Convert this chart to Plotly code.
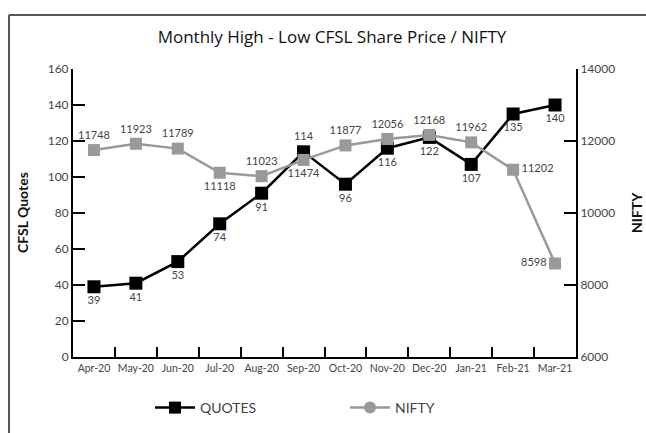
import plotly.graph_objects as go

months = ["Apr-20", "May-20", "Jun-20", "Jul-20", "Aug-20", "Sep-20",
          "Oct-20", "Nov-20", "Dec-20", "Jan-21", "Feb-21", "Mar-21"]
quotes = [39, 41, 53, 74, 91, 114, 96, 116, 122, 107, 135, 140]
nifty = [11748, 11923, 11789, 11118, 11023, 11474, 11877, 12056, 12168, 11962, 11202, 8598]

quote_pos = ["bottom center"] * 12
quote_pos[5] = "top center"
nifty_pos = ["top center"] * 12
nifty_pos[3] = "bottom center"
nifty_pos[5] = "bottom center"
nifty_pos[10] = "middle right"
nifty_pos[11] = "middle left"

FONT = "Lato"
BLACK = "#000000"
GRAY = "#999999"
TXT = "#444444"

fig = go.Figure()

fig.add_trace(go.Scatter(
    x=months, y=quotes, mode="lines+markers+text", name="QUOTES",
    line=dict(color=BLACK, width=2.5),
    marker=dict(symbol="square", size=13, color=BLACK),
    text=[str(v) for v in quotes], textposition=quote_pos,
    textfont=dict(family=FONT, size=11, color=TXT),
    showlegend=False, cliponaxis=False, yaxis="y"))

fig.add_trace(go.Scatter(
    x=months, y=nifty, mode="lines+markers+text", name="NIFTY",
    line=dict(color=GRAY, width=2.5),
    marker=dict(symbol="square", size=12, color=GRAY),
    text=[str(v) for v in nifty], textposition=nifty_pos,
    textfont=dict(family=FONT, size=11, color=TXT),
    showlegend=False, cliponaxis=False, yaxis="y2"))

# legend-only entries
fig.add_trace(go.Scatter(
    x=[None], y=[None], mode="lines+markers", name="QUOTES",
    line=dict(color=BLACK, width=2.5),
    marker=dict(symbol="square", size=12, color=BLACK), yaxis="y"))
fig.add_trace(go.Scatter(
    x=[None], y=[None], mode="lines+markers", name="NIFTY",
    line=dict(color=GRAY, width=2.5),
    marker=dict(symbol="circle", size=12, color=GRAY), yaxis="y2"))

fig.update_layout(
    width=646, height=433,
    margin=dict(l=73, r=70, t=69, b=76, autoexpand=False),
    paper_bgcolor="white", plot_bgcolor="white",
    font=dict(family=FONT, color=TXT),
    title=dict(text="Monthly High - Low CFSL Share Price / NIFTY",
               x=332 / 646, xanchor="center", y=1 - 37 / 433, yanchor="middle",
               font=dict(family="Open Sans", size=17, color="#111111", weight=500)),
    xaxis=dict(type="category", categoryorder="array", categoryarray=months,
               range=[-0.5, 11.5], showgrid=False, zeroline=False,
               showline=True, linecolor=BLACK, linewidth=2,
               ticks="inside", ticklen=10, tickwidth=2, tickcolor=BLACK,
               tickson="boundaries", tickangle=0,
               tickfont=dict(family=FONT, size=10.5, color=TXT)),
    yaxis=dict(range=[0, 160], dtick=20, showgrid=False, zeroline=False,
               showline=True, linecolor=BLACK, linewidth=2,
               ticks="inside", ticklen=12, tickwidth=2, tickcolor=BLACK,
               tickfont=dict(family=FONT, size=12, color=TXT)),
    yaxis2=dict(range=[6000, 14000], dtick=2000, overlaying="y", side="right",
                tickformat="d",
                showgrid=False, zeroline=False,
                showline=True, linecolor=BLACK, linewidth=2,
                ticks="inside", ticklen=12, tickwidth=2, tickcolor=BLACK,
                tickfont=dict(family=FONT, size=12, color=TXT)),
    legend=dict(orientation="h", x=(150 - 73) / 503, xanchor="left",
                y=(357 - 408) / 288, yanchor="middle",
                font=dict(family=FONT, size=14, color=TXT),
                entrywidth=140, entrywidthmode="pixels",
                itemwidth=40, tracegroupgap=0),
    showlegend=True,
)

fig.add_annotation(text="<b>CFSL Quotes</b>", textangle=-90,
                   xref="paper", yref="paper", x=(22 - 73) / 503, y=0.5,
                   xanchor="center", yanchor="middle", showarrow=False,
                   font=dict(family=FONT, size=14, color="#111111"))
fig.add_annotation(text="<b>NIFTY</b>", textangle=-90,
                   xref="paper", yref="paper", x=(636 - 73) / 503, y=0.5,
                   xanchor="center", yanchor="middle", showarrow=False,
                   font=dict(family=FONT, size=14, color="#111111"))

# outer frame (left and top edges visible)
x0 = (9 - 73) / 503
y_top = (357 - 15) / 288
y_bot = (357 - 440) / 288
fig.add_shape(type="line", xref="paper", yref="paper",
              x0=x0, x1=x0, y0=y_bot, y1=y_top,
              line=dict(color="#555555", width=2))
fig.add_shape(type="line", xref="paper", yref="paper",
              x0=x0, x1=(660 - 73) / 503, y0=y_top, y1=y_top,
              line=dict(color="#555555", width=2))

fig.write_html("out.html", config={"displayModeBar": False},
               post_script="document.body.style.margin='0';document.body.style.overflow='hidden';")
